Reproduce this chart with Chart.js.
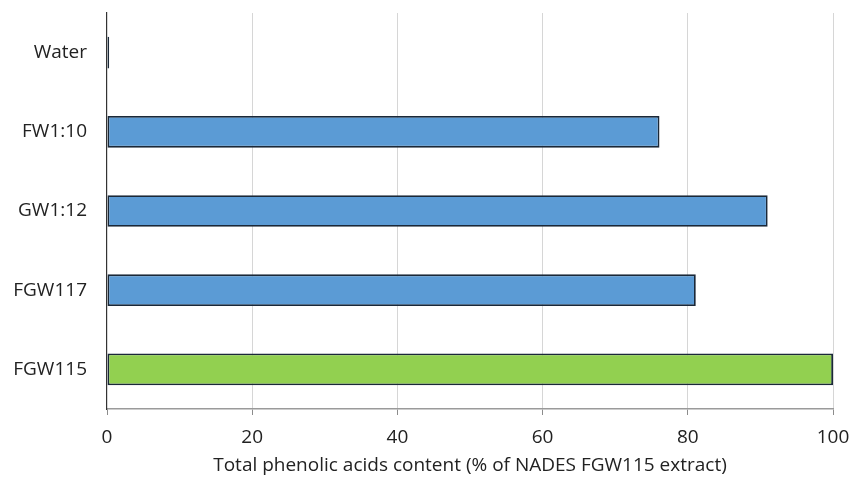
<!DOCTYPE html>
<html>
<head>
<meta charset="utf-8">
<script src="https://cdn.jsdelivr.net/npm/chart.js@4"></script>
<style>
html,body{margin:0;padding:0;background:#fff;}
#wrap{width:850px;height:477px;position:relative;}
</style>
</head>
<body>
<div id="wrap"><canvas id="c" width="850" height="477"></canvas></div>
<script>
const categories = ["Water", "FW1:10", "GW1:12", "FGW117", "FGW115"];
const values = [0.3, 76.1, 91.0, 81.1, 100];
const barColors = ["#5B9BD5", "#5B9BD5", "#5B9BD5", "#5B9BD5", "#92D050"];
const xTicks = [0, 20, 40, 60, 80, 100];
const xTitle = "Total phenolic acids content (% of NADES FGW115 extract)";

const FONT = "'Open Sans', 'Liberation Sans', sans-serif";
const PAD = {left: 0, right: 17, top: 13, bottom: 0};

function noPad(s) { s.paddingTop = 0; s.paddingBottom = 0; s.paddingLeft = 0; s.paddingRight = 0; }

new Chart(document.getElementById('c'), {
  type: 'bar',
  data: {
    labels: categories,
    datasets: [{
      data: values,
      backgroundColor: barColors,
      borderColor: "#1a2838",
      borderWidth: 1.8,
      borderSkipped: false,
      barPercentage: 0.4,
      categoryPercentage: 1.0
    }]
  },
  options: {
    indexAxis: 'y',
    responsive: false,
    animation: false,
    devicePixelRatio: 1,
    layout: {padding: PAD},
    plugins: {legend: {display: false}, tooltip: {enabled: false}},
    scales: {
      x: {
        type: 'linear',
        min: 0, max: 100,
        afterBuildTicks: s => { s.ticks = xTicks.map(v => ({value: v})); },
        afterFit: s => { s.height = 477 - 409 - PAD.bottom; noPad(s); },
        grid: {
          color: ctx => ctx.tick && ctx.tick.value === 0 ? 'rgba(0,0,0,0)' : '#d6d6d6',
          borderDash: [3, 3],
          lineWidth: 1,
          drawTicks: true,
          tickLength: 6,
          tickColor: '#8c8c8c',
          tickBorderDash: [],
          tickWidth: 1
        },
        border: {display: true, color: '#9a9a9a', width: 1.5},
        ticks: {
          color: '#222',
          font: {family: FONT, size: 19},
          padding: 11,
          maxRotation: 0
        },
        title: {
          display: true,
          text: xTitle,
          color: '#222',
          font: {family: FONT, size: 19},
          padding: {top: 0, bottom: 0}
        }
      },
      y: {
        afterFit: s => { s.width = 107 - PAD.left; noPad(s); },
        grid: {drawOnChartArea: false, drawTicks: false},
        border: {display: true, color: '#333', width: 1.2},
        ticks: {
          color: '#222',
          font: {family: FONT, size: 19},
          padding: 20
        }
      }
    }
  }
});
</script>
</body>
</html>
